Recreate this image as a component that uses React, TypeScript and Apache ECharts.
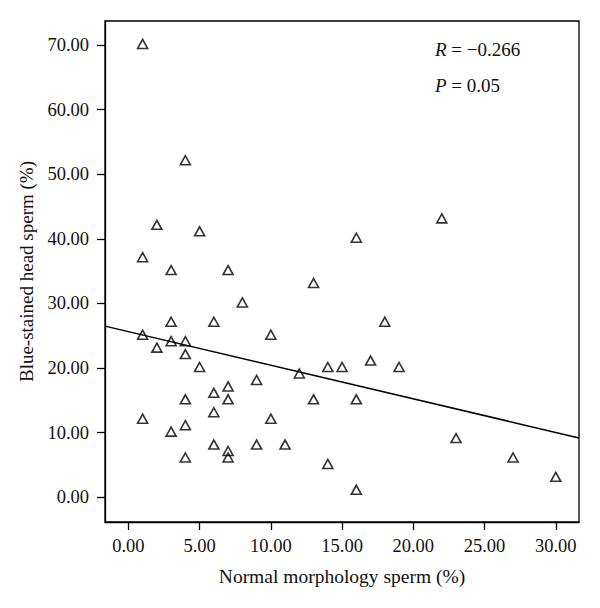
import React, { useEffect, useRef } from "react";
import * as echarts from "echarts";

const normalMorphology: number[] = [1, 4, 2, 5, 22, 1, 3, 7, 16, 13, 8, 3, 6, 18, 1, 10, 3, 4, 2, 4, 5, 14, 15, 19, 17, 12, 9, 7, 6, 4, 7, 13, 16, 1, 6, 10, 4, 3, 23, 6, 9, 11, 7, 7, 4, 27, 14, 30, 16];
const blueStainedHead: number[] = [70, 52, 42, 41, 43, 37, 35, 35, 40, 33, 30, 27, 27, 27, 25, 25, 24, 24, 23, 22, 20, 20, 20, 20, 21, 19, 18, 17, 16, 15, 15, 15, 15, 12, 13, 12, 11, 10, 9, 8, 8, 8, 7, 6, 6, 6, 5, 3, 1];

const xTicks: number[] = [0, 5, 10, 15, 20, 25, 30];
const yTicks: number[] = [0, 10, 20, 30, 40, 50, 60, 70];

const xRange: number[] = [-1.64, 31.63];
const yRange: number[] = [-3.83, 73.7];

const fitIntercept = 25.63;
const fitSlope = -0.52;

const statR = "−0.266";
const statP = "0.05";

const FONT = "'Liberation Serif', 'Times New Roman', serif";

export default function App() {
  const ref = useRef<HTMLDivElement>(null);
  useEffect(() => {
    if (!ref.current) return;
    const chart = echarts.init(ref.current, null, { renderer: "svg" });
    const points = normalMorphology.map((x, i) => [x, blueStainedHead[i]]);
    const fitLine = xRange.map((x) => [x, fitIntercept + fitSlope * x]);
    chart.setOption({
      animation: false,
      backgroundColor: "#fff",
      grid: {
        left: 105,
        right: 21,
        top: 21,
        bottom: 86,
        show: true,
        borderColor: "#000",
        borderWidth: 1.3,
        backgroundColor: "transparent",
      },
      xAxis: {
        type: "value",
        min: xRange[0],
        max: xRange[1],
        name: "Normal morphology sperm (%)",
        nameLocation: "middle",
        nameGap: 44,
        nameTextStyle: { fontFamily: FONT, fontSize: 19.5, color: "#111" },
        splitLine: { show: false },
        axisLine: { show: true, onZero: false, lineStyle: { color: "#000", width: 1.3 } },
        axisTick: { show: true, length: 8, customValues: xTicks, lineStyle: { color: "#000", width: 1.3 } },
        axisLabel: {
          customValues: xTicks,
          margin: 14,
          fontFamily: FONT,
          fontSize: 18.5,
          color: "#111",
          formatter: (v: number) => v.toFixed(2),
        },
      },
      yAxis: {
        type: "value",
        min: yRange[0],
        max: yRange[1],
        name: "Blue-stained head sperm (%)",
        nameLocation: "middle",
        nameGap: 66,
        nameRotate: 90,
        nameTextStyle: { fontFamily: FONT, fontSize: 19, color: "#111" },
        splitLine: { show: false },
        axisLine: { show: true, onZero: false, lineStyle: { color: "#000", width: 1.3 } },
        axisTick: { show: true, length: 8, customValues: yTicks, lineStyle: { color: "#000", width: 1.3 } },
        axisLabel: {
          customValues: yTicks,
          margin: 16,
          fontFamily: FONT,
          fontSize: 18.5,
          color: "#111",
          formatter: (v: number) => v.toFixed(2),
        },
      },
      series: [
        {
          type: "line",
          data: fitLine,
          showSymbol: false,
          symbol: "none",
          lineStyle: { color: "#000", width: 1.5 },
          silent: true,
          z: 2,
        },
        {
          type: "scatter",
          data: points,
          symbol: "triangle",
          symbolSize: [10, 9],
          symbolOffset: [0, -1],
          itemStyle: { color: "rgba(255,255,255,0)", borderColor: "#000", borderWidth: 1.6 },
          z: 3,
        },
      ],
      graphic: [
        {
          type: "text",
          left: 435,
          top: 40,
          style: {
            text: "{i|R} = " + statR,
            fontFamily: FONT,
            fontSize: 19,
            fill: "#111",
            rich: { i: { fontStyle: "italic", fontFamily: FONT, fontSize: 19, fill: "#111" } },
          },
        },
        {
          type: "text",
          left: 435,
          top: 76,
          style: {
            text: "{i|P} = " + statP,
            fontFamily: FONT,
            fontSize: 19,
            fill: "#111",
            rich: { i: { fontStyle: "italic", fontFamily: FONT, fontSize: 19, fill: "#111" } },
          },
        },
      ],
    });
    return () => chart.dispose();
  }, []);
  return <div ref={ref} style={{ width: 600, height: 608, position: "absolute", left: 0, top: 0 }} />;
}
